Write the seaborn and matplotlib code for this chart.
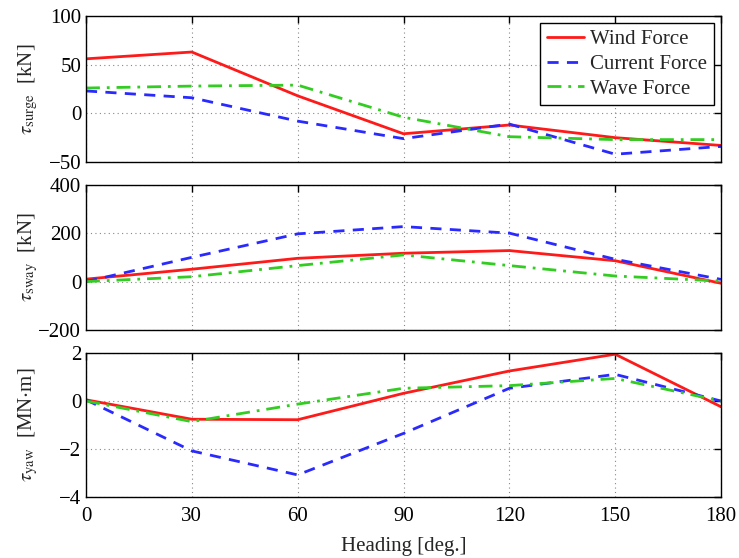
import matplotlib
matplotlib.use("Agg")
import matplotlib.pyplot as plt
import seaborn as sns
import numpy as np

heading = [0, 30, 60, 90, 120, 150, 180]

surge_wind = [56, 63, 18, -21, -12, -25, -33]
surge_current = [23, 16, -8, -26, -11, -42, -34]
surge_wave = [26, 28, 29, -4, -24, -27, -27]

sway_wind = [10, 51, 96, 117, 128, 86, -7]
sway_current = [0, 100, 197, 227, 200, 92, 9]
sway_wave = [0, 20, 66, 110, 66, 23, 2]

yaw_wind = [0.05, -0.76, -0.78, 0.32, 1.25, 1.95, -0.24]
yaw_current = [0.05, -2.08, -3.08, -1.35, 0.53, 1.11, 0.0]
yaw_wave = [0.0, -0.86, -0.13, 0.53, 0.64, 0.94, 0.0]

series_names = ["Wind Force", "Current Force", "Wave Force"]
ylabels = [r"$\tau_{\mathrm{surge}}$  [kN]", r"$\tau_{\mathrm{sway}}$  [kN]", r"$\tau_{\mathrm{yaw}}$  [MN$\cdot$m]"]
yticks = [[-50, 0, 50, 100], [-200, 0, 200, 400], [-4, -2, 0, 2]]
xticks = [0, 30, 60, 90, 120, 150, 180]

sns.set_style("white")
plt.rcParams["font.family"] = ["Liberation Serif", "DejaVu Serif"]
plt.rcParams["mathtext.fontset"] = "stix"
plt.rcParams["axes.unicode_minus"] = True

fig = plt.figure(figsize=(7.39, 5.58), dpi=100)
L, W = 86 / 739, 635 / 739
rects = [(162, 146), (330, 145.3), (497, 144)]
data = [
    (surge_wind, surge_current, surge_wave),
    (sway_wind, sway_current, sway_wave),
    (yaw_wind, yaw_current, yaw_wave),
]
styles = [
    dict(color="#ff1a1a", linestyle="-", lw=2.0),
    dict(color="#2a2aff", linestyle=(0, (4, 3)), lw=2.0),
    dict(color="#33cc22", linestyle=(0, (5, 2.5, 1, 2.5)), lw=2.0),
]

axes = []
for i, ((bot, h), series) in enumerate(zip(rects, data)):
    ax = fig.add_axes([L, 1 - bot / 558, W, h / 558])
    axes.append(ax)
    for name, vals, st in zip(series_names, series, styles):
        sns.lineplot(x=heading, y=vals, ax=ax, label=name if i == 0 else None, **st)
    ax.set_xlim(0, 180)
    ax.set_ylim(yticks[i][0], yticks[i][-1])
    ax.set_yticks(yticks[i])
    ax.set_xticks(xticks)
    ax.grid(True, linestyle=(0, (1, 3)), color="#888888", lw=0.8)
    ax.tick_params(direction="in", top=True, right=True, length=5, width=1, labelsize=15, colors="black")
    ax.tick_params(axis="x", pad=7)
    for sp in ax.spines.values():
        sp.set_color("black")
        sp.set_linewidth(1.0)
    ax.set_ylabel(ylabels[i], fontsize=15)
    ax.yaxis.set_label_coords(-0.072, 0.5)
    if i < 2:
        ax.set_xticklabels([])
    else:
        ax.set_xlabel("Heading [deg.]", fontsize=15, labelpad=8)
    if i == 0:
        leg = ax.legend(loc="upper right", fontsize=15, frameon=True, fancybox=False,
                        edgecolor="black", framealpha=1, handlelength=1.8,
                        borderpad=0.3, labelspacing=0.25, handletextpad=0.3,
                        borderaxespad=0.35)
        leg.get_frame().set_linewidth(1.0)
    elif ax.get_legend() is not None:
        ax.get_legend().remove()

fig.savefig("out.png", dpi=100)
